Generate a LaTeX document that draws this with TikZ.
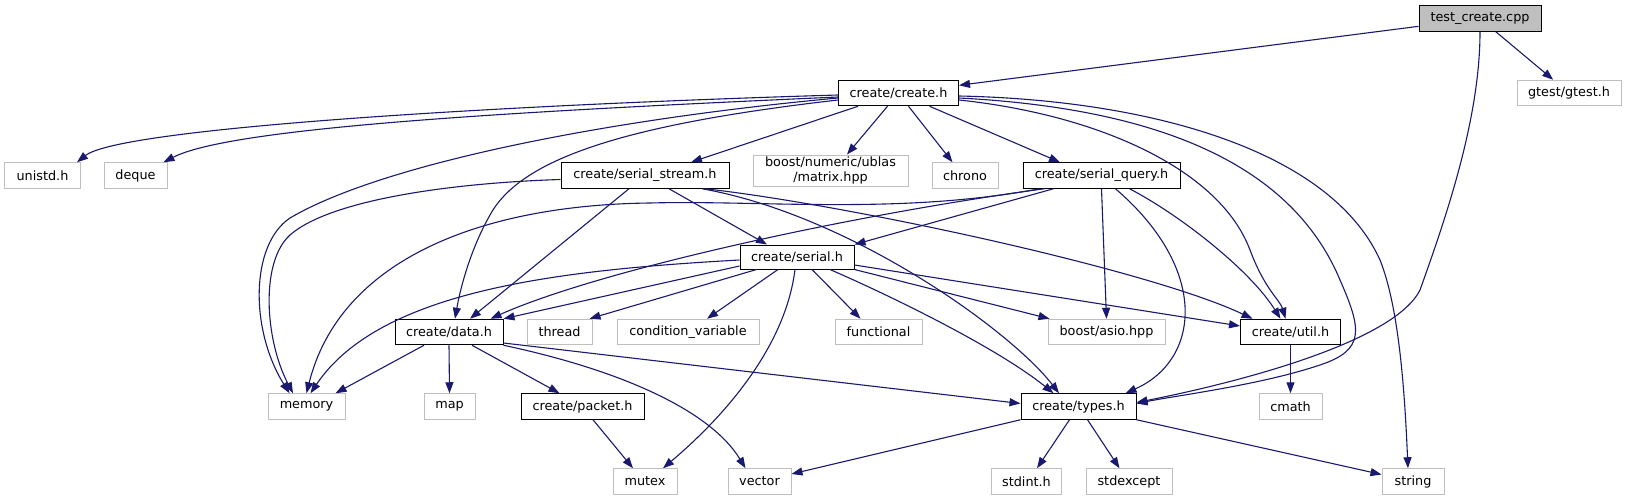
\documentclass[tikz,border=0pt]{standalone}
\usepackage{fontspec}
\setmainfont{DejaVu Sans}
\usetikzlibrary{arrows.meta}
\definecolor{edgec}{HTML}{191970}
\definecolor{extc}{HTML}{BFBFBF}
\begin{document}
\begin{tikzpicture}[x=1pt,y=-1pt,
  box/.style={draw=black,line width=1pt,minimum height=25.5pt,inner sep=0pt,font=\fontsize{12.8}{15.5}\selectfont,fill=white},
  ext/.style={box,draw=extc},
  root/.style={box,fill=extc},
  e/.style={draw=edgec,line width=1.1pt,-{Triangle[length=11pt,width=8pt]}}]
\useasboundingbox[fill=white] (0,0) rectangle (1627,500);
% nodes
\node[root,minimum width=122pt] (T) at (1480,18.5) {test\_create.cpp};
\node[ext,minimum width=104pt] (G) at (1569,93) {gtest/gtest.h};
\node[box,minimum width=120pt] (C) at (898.5,93) {create/create.h};
\node[ext,minimum width=76pt] (U) at (42.5,175.5) {unistd.h};
\node[ext,minimum width=63pt] (D) at (135.5,175.5) {deque};
\node[box,minimum width=168pt] (SS) at (645,175.5) {create/serial\_stream.h};
\node[ext,minimum width=155pt,minimum height=31pt,align=center] (M) at (830.5,170.5) {boost/numeric/ublas\\/matrix.hpp};
\node[ext,minimum width=66pt] (CH) at (965,175.5) {chrono};
\node[box,minimum width=157pt] (SQ) at (1101.5,175.5) {create/serial\_query.h};
\node[box,minimum width=114pt,minimum height=24pt] (S) at (797,257) {create/serial.h};
\node[box,minimum width=108pt] (DA) at (449,332) {create/data.h};
\node[ext,minimum width=65pt] (TH) at (559.5,332) {thread};
\node[ext,minimum width=142pt] (CV) at (688,332) {condition\_variable};
\node[ext,minimum width=87pt] (F) at (878.5,332) {functional};
\node[ext,minimum width=117pt] (BA) at (1106.5,332) {boost/asio.hpp};
\node[box,minimum width=100pt] (UT) at (1290.5,332) {create/util.h};
\node[ext,minimum width=77pt] (ME) at (306.5,406.5) {memory};
\node[ext,minimum width=51pt] (MA) at (449.5,406.5) {map};
\node[box,minimum width=123pt] (P) at (582.5,406.5) {create/packet.h};
\node[box,minimum width=115pt] (TY) at (1078.5,406.5) {create/types.h};
\node[ext,minimum width=63pt] (CM) at (1290.5,406.5) {cmath};
\node[ext,minimum width=64pt] (MU) at (645,481.5) {mutex};
\node[ext,minimum width=63pt] (V) at (759.5,481.5) {vector};
\node[ext,minimum width=70pt] (SI) at (1026.5,481.5) {stdint.h};
\node[ext,minimum width=86pt] (SE) at (1129,481.5) {stdexcept};
\node[ext,minimum width=62pt] (ST) at (1413,481.5) {string};
% edges from test_create.cpp
\draw[e] (T) -- (C);
\draw[e] (T) -- (G);
\draw[e] (T.south) .. controls (1480,120) and (1445,220) .. (1420,290) .. controls (1395,340) and (1250,380) .. ([yshift=4]TY.east);
% edges from create.h
\draw[e] ([yshift=-2]C.west) .. controls (500,105) and (120,128) .. ([xshift=-4]U.north east);
\draw[e] ([yshift=-4]C.west) .. controls (500,112) and (230,128) .. ([xshift=-4]D.north east);
\draw[e] ([yshift=-5]C.west) .. controls (600,120) and (380,165) .. (290,218) .. controls (250,245) and (250,330) .. ([xshift=-17]ME.north);
\draw[e] ([yshift=-7]C.west) .. controls (620,125) and (520,160) .. (490,215) .. controls (470,250) and (460,290) .. ([xshift=6]DA.north);
\draw[e] ([xshift=-40.5]C.south) -- ([xshift=46]SS.north);
\draw[e] ([xshift=-11]C.south) -- ([xshift=16.5]M.north);
\draw[e] ([xshift=10]C.south) -- ([xshift=-12.5]CH.north);
\draw[e] ([xshift=31]C.south) -- ([xshift=-41.5]SQ.north);
\draw[e] ([yshift=-7]C.east) .. controls (1100,115) and (1220,170) .. (1250,250) .. controls (1265,290) and (1280,300) .. ([xshift=-5]UT.north);
\draw[e] ([yshift=-5]C.east) .. controls (1150,108) and (1290,160) .. (1340,280) .. controls (1362,330) and (1365,350) .. (1320,365) .. controls (1260,385) and (1180,395) .. ([yshift=3]TY.east);
\draw[e] ([yshift=-3]C.east) .. controls (1150,100) and (1330,150) .. (1380,260) .. controls (1400,310) and (1405,400) .. ([xshift=-5]ST.north);
% edges from serial_stream.h
\draw[e] ([yshift=-4]SS.west) .. controls (450,183) and (330,200) .. (290,235) .. controls (260,262) and (265,340) .. ([xshift=-13.5]ME.north);
\draw[e] ([xshift=-16]SS.south) -- ([xshift=21]DA.north);
\draw[e] ([xshift=24]SS.south) -- ([xshift=-30]S.north);
\draw[e] ([xshift=57]SS.south) .. controls (850,215) and (1010,330) .. ([xshift=-19.5]TY.north);
\draw[e] ([xshift=60]SS.south) .. controls (850,205) and (1150,270) .. ([xshift=-38]UT.north);
% edges from serial_query.h
\draw[e] ([xshift=17]SQ.south west) .. controls (900,215) and (760,200) .. (650,203) .. controls (480,205) and (340,260) .. (ME.north);
\draw[e] ([xshift=22]SQ.south west) .. controls (850,215) and (600,270) .. ([xshift=-13]DA.north east);
\draw[e] ([xshift=31]SQ.south west) -- (S.north east);
\draw[e] (SQ.south) -- (BA.north);
\draw[e] ([xshift=14]SQ.south) .. controls (1210,270) and (1200,360) .. ([xshift=47]TY.north);
\draw[e] ([xshift=28]SQ.south) .. controls (1180,215) and (1250,270) .. ([xshift=-10]UT.north);
% edges from serial.h
\draw[e] ([yshift=-3]S.west) .. controls (560,270) and (380,290) .. ([xshift=4]ME.north);
\draw[e] ([yshift=-9]S.west) -- (DA.north east);
\draw[e] ([xshift=17]S.south west) -- ([xshift=-3]TH.north east);
\draw[e] ([xshift=-19]S.south) -- ([xshift=19]CV.north);
\draw[e] ([xshift=-2]S.south) .. controls (785,350) and (720,420) .. ([xshift=18]MU.north);
\draw[e] ([xshift=15]S.south) -- ([xshift=-18]F.north);
\draw[e] ([xshift=33]S.south) .. controls (900,300) and (1000,350) .. ([xshift=-25]TY.north);
\draw[e] (S.south east) -- ([xshift=2]BA.north west);
\draw[e] ([yshift=-8]S.east) -- ([yshift=6]UT.west);
% edges from data.h
\draw[e] ([xshift=-25]DA.south) -- ([xshift=-10]ME.north east);
\draw[e] (DA.south) -- (MA.north);
\draw[e] ([xshift=23]DA.south) -- ([xshift=-23]P.north);
\draw[e] (DA.south east) .. controls (620,370) and (710,410) .. ([xshift=-14]V.north);
\draw[e] ([yshift=-11]DA.east) -- ([yshift=3]TY.west);
% others
\draw[e] ([xshift=10.5]P.south) -- ([xshift=-12]MU.north);
\draw[e] (TY.south west) -- ([yshift=7.5]V.east);
\draw[e] ([xshift=-9]TY.south) -- ([xshift=10.5]SI.north);
\draw[e] ([xshift=9]TY.south) -- ([xshift=-9.5]SE.north);
\draw[e] (TY.south east) -- ([yshift=7]ST.west);
\draw[e] (UT.south) -- (CM.north);
\end{tikzpicture}
\end{document}
